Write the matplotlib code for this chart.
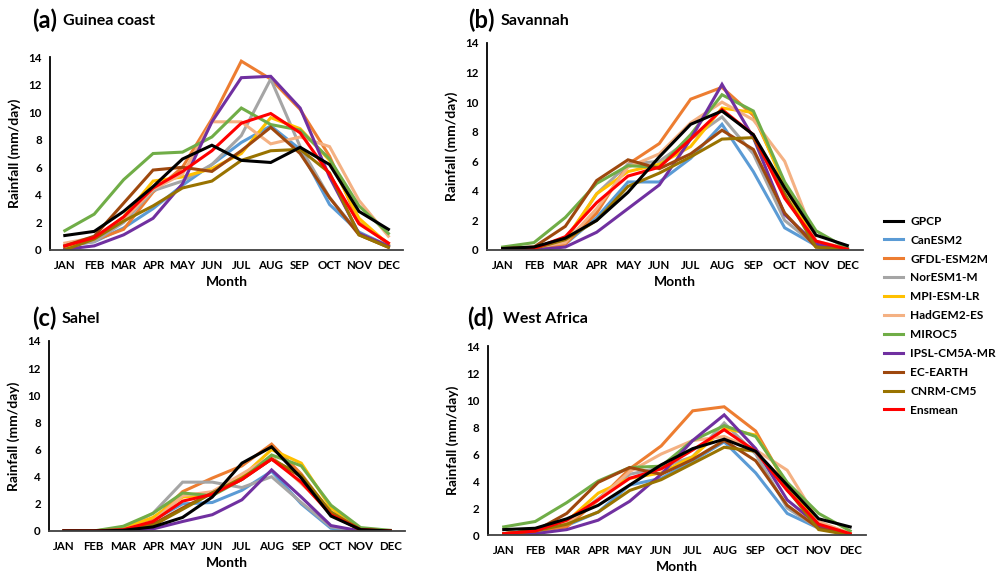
# Seasonal rainfall cycle over West Africa: GPCP vs CMIP5 models
import numpy as np
import matplotlib
matplotlib.use("Agg")
import matplotlib.pyplot as plt

plt.rcParams['font.family'] = ['Lato', 'DejaVu Sans']

months = ["JAN", "FEB", "MAR", "APR", "MAY", "JUN", "JUL", "AUG", "SEP", "OCT", "NOV", "DEC"]
names = ["GPCP", "CanESM2", "GFDL-ESM2M", "NorESM1-M", "MPI-ESM-LR", "HadGEM2-ES",
         "MIROC5", "IPSL-CM5A-MR", "EC-EARTH", "CNRM-CM5", "Ensmean"]
colors = ["#000000", "#5B9BD5", "#ED7D31", "#A5A5A5", "#FFC000", "#F4B183",
          "#70AD47", "#7030A0", "#9E480E", "#997300", "#FF0000"]

# (a) Guinea coast
guinea = {
    "GPCP":         [1.05, 1.35, 2.8, 4.6, 6.6, 7.6, 6.5, 6.35, 7.45, 6.2, 2.8, 1.5],
    "CanESM2":      [0.3, 0.6, 1.6, 3.0, 4.7, 6.2, 7.8, 9.0, 7.3, 3.3, 1.3, 0.3],
    "GFDL-ESM2M":   [0.2, 0.7, 1.5, 4.2, 6.0, 9.5, 13.7, 12.4, 10.2, 6.8, 2.0, 0.5],
    "NorESM1-M":    [0.3, 0.6, 2.0, 4.3, 5.0, 6.2, 8.3, 12.4, 7.5, 3.8, 1.2, 0.3],
    "MPI-ESM-LR":   [0.1, 0.8, 2.4, 5.0, 5.3, 5.9, 7.0, 9.6, 8.8, 6.5, 2.3, 0.4],
    "HadGEM2-ES":   [0.5, 0.9, 2.2, 4.4, 5.5, 9.3, 9.3, 7.7, 8.2, 7.5, 3.6, 1.0],
    "MIROC5":       [1.4, 2.6, 5.1, 7.0, 7.1, 8.2, 10.3, 9.1, 8.7, 6.6, 3.2, 1.2],
    "IPSL-CM5A-MR": [0.05, 0.3, 1.1, 2.3, 4.8, 9.3, 12.5, 12.6, 10.3, 5.3, 1.2, 0.3],
    "EC-EARTH":     [0.3, 1.0, 3.4, 5.8, 6.0, 5.7, 7.2, 8.9, 7.0, 3.8, 1.1, 0.2],
    "CNRM-CM5":     [0.0, 0.8, 2.1, 3.2, 4.5, 5.0, 6.5, 7.2, 7.3, 5.6, 1.1, 0.2],
    "Ensmean":      [0.3, 0.9, 2.4, 4.5, 5.7, 7.2, 9.2, 9.9, 8.5, 5.5, 1.9, 0.5],
}

# (b) Savannah
savannah = {
    "GPCP":         [0.1, 0.2, 0.8, 2.0, 3.9, 6.3, 8.5, 9.4, 7.8, 4.2, 1.0, 0.3],
    "CanESM2":      [0.05, 0.1, 0.4, 2.2, 4.6, 4.6, 6.2, 8.5, 5.3, 1.5, 0.3, 0.05],
    "GFDL-ESM2M":   [0.05, 0.1, 0.4, 2.5, 5.8, 7.2, 10.2, 11.0, 9.1, 4.5, 0.5, 0.05],
    "NorESM1-M":    [0.05, 0.1, 0.6, 3.8, 5.8, 6.0, 7.5, 9.0, 6.5, 2.0, 0.3, 0.05],
    "MPI-ESM-LR":   [0.05, 0.1, 0.7, 3.8, 5.3, 5.8, 7.0, 9.6, 9.3, 4.3, 0.4, 0.05],
    "HadGEM2-ES":   [0.1, 0.2, 0.5, 2.8, 5.6, 6.5, 8.6, 10.0, 8.8, 6.0, 0.6, 0.1],
    "MIROC5":       [0.2, 0.5, 2.2, 4.5, 5.7, 5.6, 7.8, 10.5, 9.4, 4.6, 1.3, 0.1],
    "IPSL-CM5A-MR": [0.0, 0.0, 0.2, 1.2, 2.8, 4.4, 7.5, 11.2, 7.6, 2.4, 0.4, 0.0],
    "EC-EARTH":     [0.1, 0.2, 1.6, 4.7, 6.1, 5.5, 6.5, 8.1, 6.8, 2.5, 0.2, 0.05],
    "CNRM-CM5":     [0.05, 0.1, 0.7, 2.0, 4.3, 5.2, 6.3, 7.5, 7.6, 3.8, 0.2, 0.0],
    "Ensmean":      [0.05, 0.1, 0.9, 3.2, 5.0, 5.6, 7.5, 9.5, 7.8, 3.5, 0.6, 0.05],
}

# (c) Sahel
sahel = {
    "GPCP":         [0.0, 0.0, 0.05, 0.3, 1.0, 2.5, 5.0, 6.2, 3.9, 1.1, 0.1, 0.0],
    "CanESM2":      [0.0, 0.0, 0.1, 0.8, 2.0, 2.1, 3.0, 4.4, 2.0, 0.2, 0.0, 0.0],
    "GFDL-ESM2M":   [0.0, 0.0, 0.1, 0.8, 2.9, 3.9, 4.8, 6.4, 4.2, 1.3, 0.1, 0.0],
    "NorESM1-M":    [0.0, 0.0, 0.2, 1.3, 3.6, 3.6, 3.2, 4.0, 2.1, 0.3, 0.0, 0.0],
    "MPI-ESM-LR":   [0.0, 0.0, 0.2, 1.0, 2.5, 2.7, 4.0, 6.0, 5.0, 1.7, 0.1, 0.0],
    "HadGEM2-ES":   [0.0, 0.0, 0.1, 0.7, 2.6, 2.9, 4.2, 5.5, 3.5, 1.4, 0.1, 0.0],
    "MIROC5":       [0.0, 0.0, 0.35, 1.3, 2.8, 2.6, 3.8, 5.6, 4.8, 1.9, 0.25, 0.05],
    "IPSL-CM5A-MR": [0.0, 0.0, 0.0, 0.15, 0.7, 1.2, 2.3, 4.5, 2.5, 0.4, 0.0, 0.0],
    "EC-EARTH":     [0.0, 0.0, 0.05, 0.5, 1.7, 2.8, 3.8, 5.3, 4.0, 1.3, 0.05, 0.0],
    "CNRM-CM5":     [0.0, 0.0, 0.05, 0.4, 1.6, 2.8, 3.9, 5.3, 4.1, 1.4, 0.1, 0.0],
    "Ensmean":      [0.0, 0.0, 0.1, 0.7, 2.2, 2.7, 3.8, 5.3, 3.6, 1.2, 0.1, 0.0],
}

# (d) West Africa
west_africa = {
    "GPCP":         [0.4, 0.5, 1.2, 2.2, 3.7, 5.2, 6.4, 7.1, 6.2, 3.7, 1.2, 0.6],
    "CanESM2":      [0.1, 0.3, 0.7, 1.7, 3.7, 4.2, 5.5, 6.9, 4.6, 1.6, 0.5, 0.1],
    "GFDL-ESM2M":   [0.1, 0.3, 0.6, 2.6, 4.9, 6.6, 9.2, 9.5, 7.7, 3.6, 0.8, 0.1],
    "NorESM1-M":    [0.1, 0.3, 0.9, 2.7, 4.5, 5.0, 5.8, 8.3, 6.0, 2.0, 0.5, 0.1],
    "MPI-ESM-LR":   [0.1, 0.3, 1.0, 3.1, 4.2, 4.6, 5.8, 7.9, 7.4, 3.8, 0.9, 0.1],
    "HadGEM2-ES":   [0.1, 0.3, 0.9, 2.6, 4.7, 6.0, 7.0, 7.3, 6.3, 4.8, 1.0, 0.1],
    "MIROC5":       [0.6, 1.0, 2.4, 4.0, 5.0, 5.1, 7.0, 8.1, 7.3, 3.9, 1.6, 0.3],
    "IPSL-CM5A-MR": [0.0, 0.1, 0.4, 1.1, 2.5, 4.5, 7.0, 8.9, 6.4, 2.6, 0.7, 0.0],
    "EC-EARTH":     [0.1, 0.3, 1.6, 3.9, 5.0, 4.5, 5.6, 7.0, 5.5, 2.2, 0.5, 0.0],
    "CNRM-CM5":     [0.1, 0.3, 0.8, 1.7, 3.3, 4.1, 5.3, 6.5, 6.2, 3.4, 0.4, 0.0],
    "Ensmean":      [0.1, 0.3, 1.1, 2.6, 4.2, 4.9, 6.3, 7.8, 6.2, 3.3, 0.8, 0.1],
}

panels = [
    ("(a)", "Guinea coast", guinea,      [0.050, 0.5637, 0.3523, 0.3368], (32, 20), 63),
    ("(b)", "Savannah",     savannah,    [0.486, 0.5637, 0.3753, 0.3613], (468, 20), 501),
    ("(c)", "Sahel",        sahel,       [0.049, 0.0733, 0.3553, 0.3316], (32, 318), 62),
    ("(d)", "West Africa",  west_africa, [0.487, 0.0663, 0.3772, 0.3298], (467, 318), 503),
]

fig = plt.figure(figsize=(10.02, 5.73), dpi=100)
W, H = 1002, 573
x = np.arange(len(months))

# draw models first, then ensemble mean and observations on top
order = list(range(1, 11)) + [0]

handles = {}
for tag, region, data, rect, (tx, ty), nx in panels:
    ax = fig.add_axes(rect)
    for i in order:
        ln, = ax.plot(x, data[names[i]], color=colors[i], lw=2.2,
                      solid_joinstyle='miter', label=names[i])
        handles[names[i]] = ln
    ax.set_xlim(-0.5, 11.5)
    ax.set_ylim(0, 14)
    ax.set_yticks(range(0, 15, 2))
    ax.set_xticks(x)
    ax.set_xticklabels(months)
    ax.tick_params(length=0, labelsize=8.3, pad=7)
    ax.tick_params(axis='y', pad=6)
    for lab in ax.get_xticklabels() + ax.get_yticklabels():
        lab.set_fontweight('bold')
    for s in ["top", "right"]:
        ax.spines[s].set_visible(False)
    ax.spines["left"].set_linewidth(1.3)
    ax.spines["bottom"].set_linewidth(1.3)
    ax.spines["bottom"].set_color("#404040")
    ax.set_ylabel("Rainfall (mm/day)", fontsize=10, fontweight='bold', labelpad=5)
    ax.set_xlabel("Month", fontsize=10, fontweight='bold', labelpad=4)
    fig.text(tx / W, 1 - ty / H, tag, fontsize=17, fontweight='bold', va='center', ha='left')
    fig.text(nx / W, 1 - (ty + 1) / H, region, fontsize=11.5, fontweight='bold', va='center', ha='left')

fig.legend([handles[n] for n in names], names, loc='upper left',
           bbox_to_anchor=(873 / W, 1 - 205 / H), frameon=False,
           handlelength=1.6, handletextpad=0.6, labelspacing=0.66,
           prop={'weight': 'bold', 'size': 8.6})

fig.savefig("out.png", dpi=100)
